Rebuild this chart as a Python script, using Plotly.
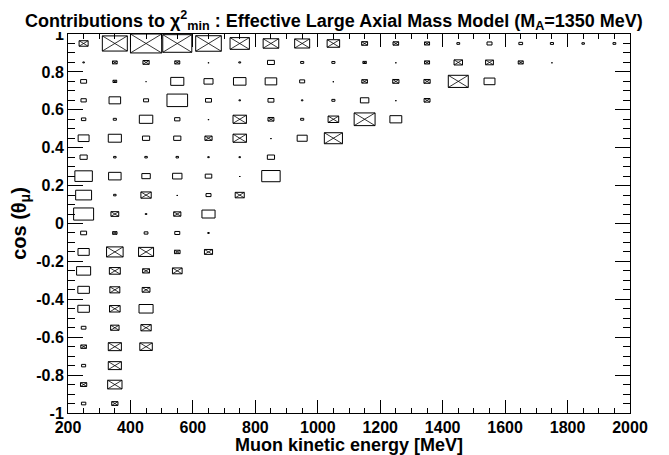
import plotly.graph_objects as go

# ---- data -------------------------------------------------------------
# Muon kinetic energy bin edges [MeV] and cos(theta_mu) bin edges
t_edges = [200 + 100 * i for i in range(19)]
cos_edges = [round(-1 + 0.1 * i, 2) for i in range(21)]

# Relative chi^2 contributions per (cos, T) cell, columns T = 250..1950 MeV.
# Negative values are drawn as crossed boxes.
row_m095 = [0.14, -0.20]
row_m085 = [-0.20, -0.46]
row_m075 = [0.13, -0.42]
row_m065 = [-0.18, -0.42, -0.40]
row_m055 = [0.15, -0.27, -0.33]
row_m045 = [0.37, -0.34, 0.45]
row_m035 = [0.37, -0.32, -0.25]
row_m025 = [0.45, -0.35, -0.22, -0.31]
row_m015 = [0.36, -0.53, -0.48, -0.18, -0.26]
row_m005 = [0.19, -0.14, 0.12, 0.16, 0.05]
row_p005 = [0.64, -0.25, 0.05, -0.23, 0.42]
row_p015 = [0.51, 0.08, -0.33, 0.04, 0.16, -0.29]
row_p025 = [0.56, 0.40, 0.27, 0.30, 0.21, 0.04, 0.59]
row_p035 = [0.23, 0.08, 0.08, 0.08, 0.05, 0.05, 0.23]
row_p045 = [0.35, 0.42, 0.23, 0.23, -0.23, -0.43, 0.04, 0.32, -0.58]
row_p055 = [0.14, 0.10, 0.43, 0.17, 0.04, -0.43, -0.19, 0.10, -0.34, -0.67, 0.38]
row_p065 = [0.17, 0.37, 0.16, 0.66, 0.19, 0.05, 0.19, 0.05, 0.10, 0.27, 0.04, -0.19]
row_p075 = [0.19, -0.12, 0.03, 0.42, 0.29, 0.40, 0.37, 0.16, 0.04, -0.18, -0.20,
            -0.20, -0.64, 0.35]
row_p085 = [0.05, -0.15, -0.20, -0.16, 0.04, 0.06, 0.22, 0.10, 0.10, -0.11, 0.04,
            -0.16, -0.27, -0.25, -0.16, 0.04]
row_p095 = [-0.29, -0.80, -1.00, -0.93, -0.82, -0.62, -0.50, -0.48, -0.40, -0.19,
            -0.18, -0.16, 0.09, 0.16, 0.12, 0.10, 0.08, 0.09]

rows = [row_m095, row_m085, row_m075, row_m065, row_m055, row_m045, row_m035,
        row_m025, row_m015, row_m005, row_p005, row_p015, row_p025, row_p035,
        row_p045, row_p055, row_p065, row_p075, row_p085, row_p095]

x_tick_vals = [200, 400, 600, 800, 1000, 1200, 1400, 1600, 1800, 2000]
x_tick_text = ["200", "400", "600", "800", "1000", "1200", "1400", "1600", "1800", "2000"]
y_tick_vals = [-1, -0.8, -0.6, -0.4, -0.2, 0, 0.2, 0.4, 0.6, 0.8, 1]
y_tick_text = ["-1", "-0.8", "-0.6", "-0.4", "-0.2", "0", "0.2", "0.4", "0.6", "0.8", "1"]

# minor tick positions (every 50 MeV, every 0.05 in cos)
x_minor_vals = [200 + 50 * k for k in range(37)]
y_minor_vals = [round(-1 + 0.05 * k, 3) for k in range(41)]

# ---- build box outlines ----------------------------------------------
vmax = max(abs(v) for r in rows for v in r if v is not None)
bx, by, cx, cy = [], [], [], []
for i, r in enumerate(rows):
    y0e, y1e = cos_edges[i], cos_edges[i + 1]
    yc, dy = (y0e + y1e) / 2, (y1e - y0e)
    for j, v in enumerate(r):
        if v is None:
            continue
        x0e, x1e = t_edges[j], t_edges[j + 1]
        xc, dx = (x0e + x1e) / 2, (x1e - x0e)
        f = abs(v) / vmax
        hw, hh = 0.5 * dx * f, 0.5 * dy * f
        xa, xb, ya, yb = xc - hw, xc + hw, yc - hh, yc + hh
        bx += [xa, xb, xb, xa, xa, None]
        by += [ya, ya, yb, yb, ya, None]
        if v < 0:
            cx += [xa, xb, None, xa, xb, None]
            cy += [ya, yb, None, yb, ya, None]

fig = go.Figure()
fig.add_trace(go.Scatter(x=bx, y=by, mode="lines", line=dict(color="black", width=1),
                         hoverinfo="skip", showlegend=False))
fig.add_trace(go.Scatter(x=cx, y=cy, mode="lines", line=dict(color="black", width=0.8),
                         hoverinfo="skip", showlegend=False))

FAM = "Liberation Sans, Arial, sans-serif"

# the page places the figure 8 px from the top-left corner of the window
fig.update_layout(
    width=661, height=447,
    margin=dict(l=60, r=39, t=26, b=42),
    paper_bgcolor="white", plot_bgcolor="white",
    showlegend=False,
    font=dict(family=FAM, color="black", weight="bold", size=16),
)
fig.update_xaxes(
    range=[200, 2000], showgrid=False, zeroline=False, automargin=False,
    showline=True, linecolor="black", linewidth=1, mirror="allticks",
    ticks="inside", ticklen=13, tickcolor="black", tickwidth=1,
    tickmode="array", tickvals=x_tick_vals, ticktext=x_tick_text,
    tickfont=dict(family=FAM, color="black", weight="bold", size=16),
    minor=dict(tickmode="array", tickvals=x_minor_vals, ticks="inside",
               ticklen=5, tickcolor="black", tickwidth=1, showgrid=False),
    title=dict(text="Muon kinetic energy [MeV]",
               font=dict(family=FAM, color="black", weight="bold", size=18), standoff=2),
)
fig.update_yaxes(
    range=[-1, 1], showgrid=False, zeroline=False, automargin=False,
    showline=True, linecolor="black", linewidth=1, mirror="allticks",
    ticks="inside", ticklen=15, tickcolor="black", tickwidth=1,
    tickmode="array", tickvals=y_tick_vals, ticktext=y_tick_text,
    tickfont=dict(family=FAM, color="black", weight="bold", size=16),
    minor=dict(tickmode="array", tickvals=y_minor_vals, ticks="inside",
               ticklen=7, tickcolor="black", tickwidth=1, showgrid=False),
    title=dict(text="cos (θ<sub>μ</sub>)",
               font=dict(family=FAM, color="black", weight="bold", size=20), standoff=5),
)

# white title pad (as ROOT's title box) and the title
fig.add_shape(type="rect", xref="paper", yref="paper", x0=-0.2, x1=1.2,
              y0=1.005, y1=1.2, fillcolor="white", line=dict(width=0), layer="above")
fig.add_annotation(
    text="Contributions to χ<sup>2</sup><sub>min</sub> : Effective Large Axial Mass Model (M<sub>A</sub>=1350 MeV)",
    xref="paper", yref="paper", x=0.474, y=1.0, xanchor="center", yanchor="bottom",
    yshift=-1, showarrow=False,
    font=dict(family=FAM, color="black", weight="bold", size=18),
)

fig.write_html("out.html")
